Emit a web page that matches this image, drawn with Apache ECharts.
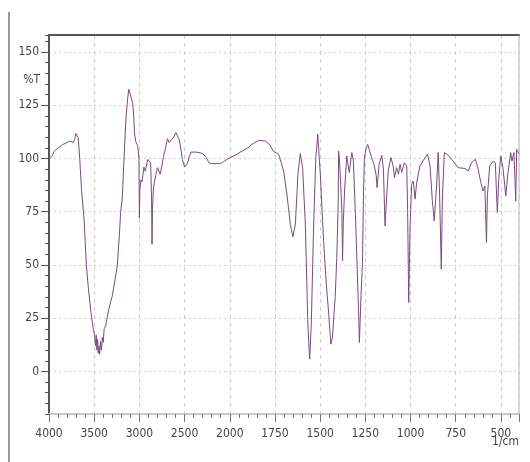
<!DOCTYPE html>
<html><head><meta charset="utf-8">
<script src="https://cdn.jsdelivr.net/npm/echarts@6/dist/echarts.min.js"></script>
<style>html,body{margin:0;padding:0;background:#fff}#c{width:530px;height:462px}</style>
</head><body><div id="c"></div>
<script>
// Wavenumbers (1/cm) and transmittance (%T)
const wavenumbers = [
4000,3960,3950,3898,3850,3800,3769,3732,3715,3703,3690,3677,3660,3640,3612,3586,3560,3531,3510,3495,
3485,3478,3470,3462,3455,3447,3440,3430,3420,3410,3400,3390,3373,3340,3300,3270,3245,3220,3208,3190,
3170,3150,3130,3118,3100,3074,3060,3055,3040,3019,3005,3000,2995,2982,2970,2963,2950,2945,2934,2920,
2908,2890,2875,2865,2860,2855,2845,2835,2820,2799,2785,2769,2750,2733,2710,2689,2670,2652,2620,2597,
2580,2560,2540,2524,2500,2487,2470,2451,2430,2414,2380,2341,2300,2286,2260,2231,2200,2150,2103,2070,
2030,2000,1960,1932,1900,1877,1840,1803,1785,1775,1760,1752,1730,1715,1702,1684,1665,1651,1637,1623,
1610,1597,1582,1568,1558,1549,1536,1524,1513,1505,1499,1481,1466,1454,1441,1432,1417,1408,1400,1398,
1394,1389,1380,1376,1372,1365,1353,1339,1325,1316,1303,1288,1283,1273,1266,1260,1255,1245,1237,1228,
1215,1200,1190,1185,1174,1159,1150,1141,1126,1122,1108,1095,1089,1077,1067,1058,1049,1034,1021,1016,
1010,1003,994,985,975,966,948,920,906,892,880,869,856,847,839,830,824,813,791,764,
736,699,681,663,641,626,611,599,589,580,575,562,543,531,520,512,501,488,473,461,
446,439,428,418,413,405,400
];
const transmittance = [
100,101.5,103,105,106.5,107.5,108.2,107.5,109,111.7,111,109.8,100,85,71.5,49.5,37,26,20,16.7,
12,17,10,15,8.6,12,8,14,10,16,13.6,20,21.4,29,35.5,43,49.5,65,74.6,81,
100,118,128,132.5,130,126,118,112,108,106,100,72,85,90,89,91.8,96,96.5,94,97,
99.6,100.4,98,80,59.7,76,86,88.7,92,95.7,95,92.6,97,101,105,109.3,107.5,108,110,112.2,
111.5,109,104,99.6,96,95.7,97.5,100.4,103,103.5,103,102.8,102.3,102,100.5,98,97.6,97.6,97.6,98.5,
99.6,100.3,102,103.5,105,106.7,108.5,108.2,107,106,103.5,102.8,102,98,94.1,83.2,69.1,63.2,69.1,92.6,
102.3,95.7,69.1,22.2,5.8,22.2,69.1,100.4,111.4,100,92.6,61.3,41,28.4,12.8,16,34.7,53.5,80,103.5,
100,92.6,75.4,51.9,70,84.7,101.2,93.4,102.8,98.8,69.1,30,13.6,37.8,50.4,85,100.4,105,106.7,104,
100.4,96.5,92,86.3,97.3,101.5,95,68.3,91,95,100.4,96,91,95.7,92.6,97.3,93.4,98,96.5,74.6,
32.4,66.8,87.9,89.4,80.9,88.7,96.5,100.4,102,96.5,80.9,70.7,87.1,102.8,82.4,48,80,102.8,101.5,98.8,
95.7,95.3,94.1,98,99.6,94.9,88.7,84.7,87.1,60.5,82.4,96.5,98.8,98,74.6,90.2,101.2,95,82.4,93.4,
102.8,98.8,102.8,80,104.3,103,102
];
const yTickValues = [0,25,50,75,100,125,150];
const xTickLabels = [4000,3500,3000,2500,2000,1750,1500,1250,1000,750,500];

// Piecewise wavenumber scale: 4000-2000 compressed 2x, 2000-400 linear
function toU(wn){ return wn >= 2000 ? (4000 - wn) / 2 : 1000 + (2000 - wn); }
function fromU(u){ return u <= 1000 ? 4000 - 2 * u : 2000 - (u - 1000); }

const seriesData = wavenumbers.map((w, i) => [toU(w), transmittance[i]]);
const FONT = "'Liberation Sans Narrow','DejaVu Sans Condensed','Arial Narrow',sans-serif";
const FS = 12;

const chart = echarts.init(document.getElementById('c'), null, {renderer:'canvas'});
chart.setOption({
  animation: false,
  backgroundColor: '#fff',
  grid: { left: 49, right: 11, top: 35, bottom: 48, containLabel: false, outerBoundsMode: 'none',
          show: true, borderColor: '#cfcfcf', borderWidth: 1.5 },
  graphic: [{
    type: 'line', shape: { x1: 9, y1: 12, x2: 9, y2: 462 },
    style: { stroke: '#777', lineWidth: 1.5 }
  }, {
    type: 'text', right: 11, top: 436,
    style: { text: '1/cm', fill: '#444', fontFamily: FONT, fontSize: FS }
  }],
  xAxis: [{
    type: 'value', position: 'bottom', min: 0, max: 2600, interval: 250,
    axisLine: { onZero: false, lineStyle: { color: '#cacaca', width: 2 } },
    axisTick: { length: 8, lineStyle: { color: '#777' } },
    minorTick: { show: true, splitNumber: 5, length: 4, lineStyle: { color: '#777' } },
    axisLabel: { margin: 14, color: '#444', fontFamily: FONT, fontSize: FS, showMaxLabel: false,
      formatter: v => { const w = fromU(v); return xTickLabels.indexOf(w) >= 0 ? String(w) : ''; } },
    splitLine: { show: true, lineStyle: { color: '#cdcdcd', type: [4, 4], width: 1 } }
  }, {
    type: 'value', position: 'top', min: 0, max: 2600,
    axisLine: { onZero: false, lineStyle: { color: '#555', width: 2 } },
    axisTick: { show: false }, axisLabel: { show: false }, splitLine: { show: false }
  }],
  yAxis: [{
    type: 'value', position: 'left', min: -20, max: 158,
    axisLine: { show: true, onZero: false, lineStyle: { color: '#555', width: 2 } },
    axisTick: { show: true, customValues: yTickValues, length: 8, lineStyle: { color: '#555' } },
    axisLabel: { customValues: yTickValues, margin: 10, color: '#444', fontFamily: FONT, fontSize: FS },
    splitLine: { show: true, lineStyle: { color: '#cdcdcd', type: [2, 3], width: 1 } },
    name: '%T', nameLocation: 'end', nameGap: -45,
    nameTextStyle: { color: '#444', fontFamily: FONT, fontSize: FS, align: 'right', verticalAlign: 'middle', padding: [0, 9, 0, 0] }
  }, {
    type: 'value', position: 'left', min: -20, max: 158, interval: 5,
    axisLine: { show: false, onZero: false },
    axisTick: { show: true, length: 4, lineStyle: { color: '#555' } },
    axisLabel: { show: false }, splitLine: { show: false }
  }],
  series: [{
    type: 'line', xAxisIndex: 0, yAxisIndex: 0, data: seriesData,
    showSymbol: false, symbol: 'none', smooth: false,
    lineStyle: { color: '#7a4c7a', width: 1 }, z: 3
  }]
});
</script></body></html>
